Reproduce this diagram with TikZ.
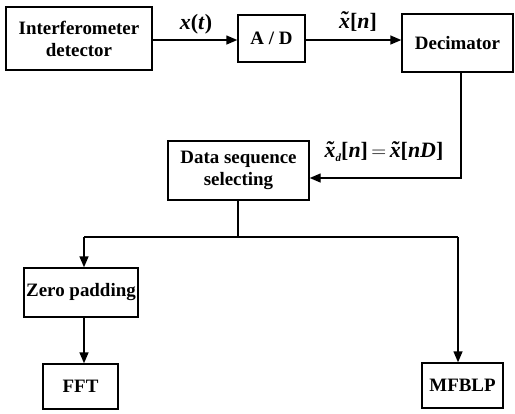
\documentclass[tikz,border=0pt]{standalone}
\usepackage{fontspec}
\setmainfont{Liberation Serif}
\usetikzlibrary{arrows.meta,calc}
% x with a tilde set over it (italic)
\newcommand{\xtil}{\ooalign{\textit{x}\cr\hidewidth\raisebox{0.12ex}{\textit{\char"02DC}}\hidewidth\cr}}
\begin{document}
\begin{tikzpicture}[x=1bp,y=-1bp,
  blk/.style={draw,line width=1.4bp,inner sep=0pt,align=center,
    font=\fontsize{19}{22}\selectfont\bfseries},
  flow/.style={line width=1.4bp,-{Triangle[length=11bp,width=9bp]}},
  wire/.style={line width=1.4bp},
  sig/.style={font=\fontsize{22}{24}\selectfont\bfseries}]
\useasboundingbox (0,0) rectangle (515,413);
% processing blocks
\node[blk,minimum width=146bp,minimum height=63bp] (det) at (79,38.5) {Interferometer\\detector};
\node[blk,minimum width=67bp,minimum height=47bp] (ad) at (271.5,38.5) {A / D};
\node[blk,minimum width=111bp,minimum height=58bp] (dec) at (457.5,43) {Decimator};
\node[blk,minimum width=141bp,minimum height=59bp] (sel) at (238.5,170.5) {Data sequence\\selecting};
\node[blk,minimum width=114bp,minimum height=49bp] (zp) at (81,292.5) {Zero padding};
\node[blk,minimum width=75bp,minimum height=45bp] (fft) at (80.5,386.5) {FFT};
\node[blk,minimum width=81bp,minimum height=45bp] (mf) at (462.5,385.5) {MFBLP};
% signal labels
\node[sig] (lx) at (196,24) {\textit{x}(\textit{t})};
\node[sig] (lxn) at (358,22) {\xtil[\textit{n}]};
\node[sig] (lxd) at (384,152) {\xtil\raisebox{-0.35ex}{\fontsize{11}{12}\selectfont\textit{d}}[\textit{n}]$\,=\,$\xtil[\textit{nD}]};
% helper points on the wires
\coordinate (d1) at (461,72);
\coordinate (d2) at (461,178);
\coordinate (b0) at (238,237);
\coordinate (bl) at (84,237);
\coordinate (br) at (458,237);
% connectors
\draw[flow] (det.east |- 0,40) -- (ad.west |- 0,40);
\draw[flow] (ad.east |- 0,40) -- (dec.west |- 0,40);
\draw[flow] (d1) -- (d2) -- (sel.east |- d2);
\draw[wire] (sel.south -| b0) -- (b0);
\draw[wire] (bl) -- (br);
\draw[flow] (bl) -- (zp.north -| bl);
\draw[flow] (br) -- (mf.north -| br);
\draw[flow] (zp.south -| bl) -- (fft.north -| bl);
\end{tikzpicture}
\end{document}
